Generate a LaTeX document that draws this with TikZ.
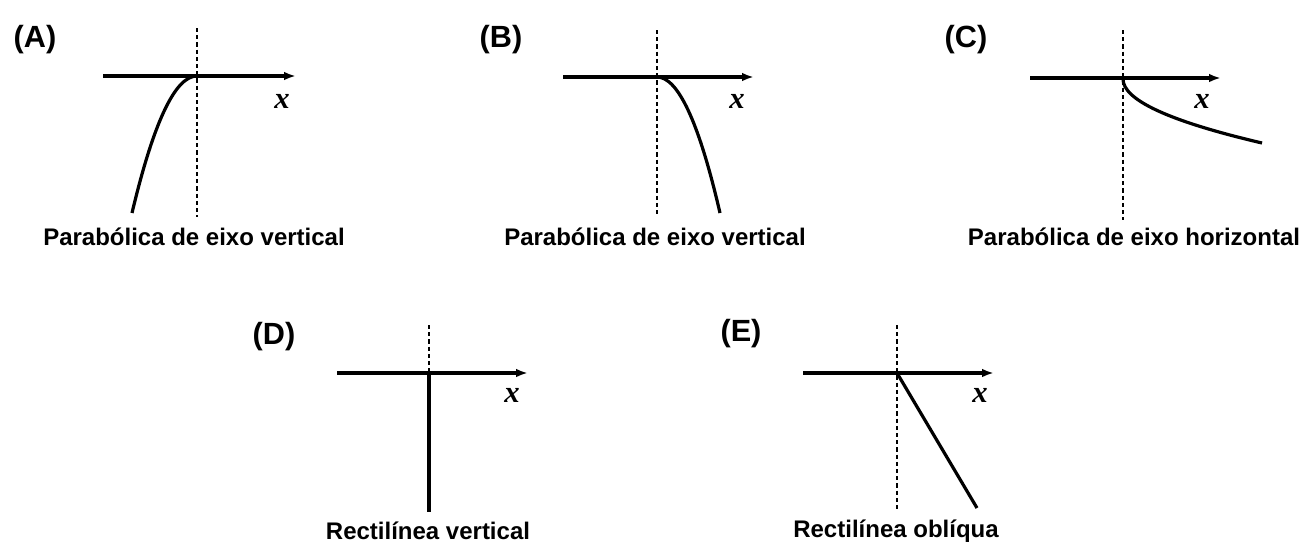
\documentclass[tikz,border=0pt]{standalone}
\usepackage{fontspec}
\setmainfont{Liberation Sans}
\newfontfamily\xfont{Liberation Serif}
\usetikzlibrary{arrows.meta}
\begin{document}
\begin{tikzpicture}[x=0.75pt,y=-0.75pt,
  axis/.style={line width=2.4pt,-{Latex[length=9pt,width=6.5pt]}},
  guide/.style={line width=2pt,dash pattern=on 3.2pt off 2.2pt},
  traj/.style={line width=2.4pt},
  panel/.style={font=\fontsize{23}{26}\selectfont\bfseries,inner sep=0pt},
  caption/.style={font=\fontsize{18}{20}\selectfont\bfseries,inner sep=0pt},
  xlab/.style={font=\fontsize{23}{25}\selectfont\xfont\bfseries\itshape,inner sep=0pt}]
\useasboundingbox (0,0) rectangle (1309,544);
% ---------- (A)
\node[panel] (lA) at (35,40) {(A)};
\coordinate (Aa) at (103,76); \coordinate (Ab) at (296,76);
\coordinate (Ao) at (197,76);
\coordinate (At) at (197,28); \coordinate (Ad) at (197,217);
\coordinate (Ae) at (132,213);
\draw[guide] (At) -- (Ad);
\draw[axis] (Aa) -- (Ab);
\draw[traj] (Ao) .. controls (175.3,76) and (153.7,121.7) .. (Ae);
\node[xlab] (xA) at (282,101) {x};
\node[caption] (cA) at (194,237) {Parabólica de eixo vertical};
% ---------- (B)
\node[panel] (lB) at (501,40) {(B)};
\coordinate (Ba) at (563,77); \coordinate (Bb) at (754,77);
\coordinate (Bo) at (657,77);
\coordinate (Bt) at (657,30); \coordinate (Bd) at (657,217);
\coordinate (Be) at (720,213);
\draw[guide] (Bt) -- (Bd);
\draw[axis] (Ba) -- (Bb);
\draw[traj] (Bo) .. controls (678,77) and (699,122.3) .. (Be);
\node[xlab] (xB) at (737,101) {x};
\node[caption] (cB) at (655,237) {Parabólica de eixo vertical};
% ---------- (C)
\node[panel] (lC) at (966,40) {(C)};
\coordinate (Ca) at (1030,78); \coordinate (Cb) at (1221,78);
\coordinate (Co) at (1123,79);
\coordinate (Ct) at (1123,30); \coordinate (Cd) at (1123,220);
\coordinate (Ce) at (1262,143);
\draw[guide] (Ct) -- (Cd);
\draw[axis] (Ca) -- (Cb);
\draw[traj] (Co) .. controls (1123,100) and (1169.3,121.3) .. (Ce);
\node[xlab] (xC) at (1202,101) {x};
\node[caption] (cC) at (1134,237) {Parabólica de eixo horizontal};
% ---------- (D)
\node[panel] (lD) at (274,337) {(D)};
\coordinate (Da) at (337,373); \coordinate (Db) at (528,373);
\coordinate (Do) at (429,373);
\coordinate (Dt) at (429,325); \coordinate (De) at (429,512);
\draw[guide] (Dt) -- (Do);
\draw[axis] (Da) -- (Db);
\draw[traj] (Do) -- (De);
\node[xlab] (xD) at (512,395) {x};
\node[caption] (cD) at (428,531) {Rectilínea vertical};
% ---------- (E)
\node[panel] (lE) at (741,334) {(E)};
\coordinate (Ea) at (803,373); \coordinate (Eb) at (994,373);
\coordinate (Eo) at (897,373);
\coordinate (Et) at (897,325); \coordinate (Ed) at (897,512);
\coordinate (Ee) at (977,508);
\draw[guide] (Et) -- (Ed);
\draw[axis] (Ea) -- (Eb);
\draw[traj] (Eo) -- (Ee);
\node[xlab] (xE) at (980,395) {x};
\node[caption] (cE) at (896,531) {Rectilínea oblíqua};
\end{tikzpicture}
\end{document}
